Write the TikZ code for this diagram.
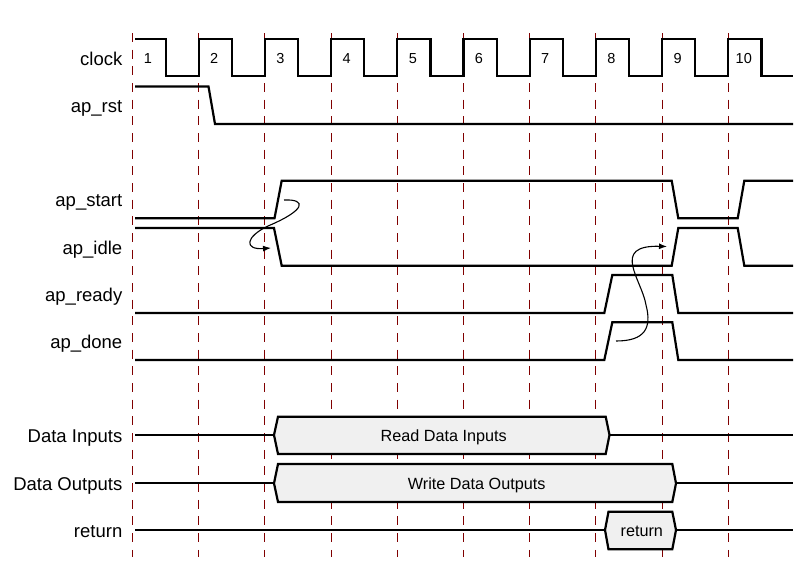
\documentclass[tikz,border=0pt]{standalone}
\usepackage{fontspec}
\setmainfont{Liberation Sans}
\usetikzlibrary{arrows.meta}
\definecolor{gridred}{RGB}{128,0,0}
\definecolor{busfill}{RGB}{240,240,240}
\begin{document}
\begin{tikzpicture}[x=1pt,y=-1pt,
  sig/.style={line width=2.2pt, line join=miter},
  gridline/.style={gridred, line width=1.1pt, dash pattern=on 9pt off 7.67pt},
  lbl/.style={anchor=base east, inner sep=0pt, font=\fontsize{18.5}{20}\selectfont},
  num/.style={anchor=base, inner sep=0pt, font=\fontsize{14.5}{16}\selectfont},
  bus/.style={sig, fill=busfill},
  bustext/.style={anchor=base, inner sep=0pt, font=\fontsize{16.2}{18}\selectfont},
  cause/.style={line width=1.1pt, -{Latex[length=8pt,width=6pt]}}]
\useasboundingbox (0,0) rectangle (800,570);

% grid lines
\foreach \k in {0,...,9} {
  \draw[gridline] ({132.5+66.2*\k},33) -- ({132.5+66.2*\k},557);
}

% labels
\node[lbl] (lclock) at (122.5,65) {clock};
\node[lbl] (lrst) at (122.5,112.7) {ap\_rst};
\node[lbl] (lstart) at (122.5,206.7) {ap\_start};
\node[lbl] (lidle) at (122.5,254.3) {ap\_idle};
\node[lbl] (lready) at (122.5,301.7) {ap\_ready};
\node[lbl] (ldone) at (122.5,348.3) {ap\_done};
\node[lbl] (lin) at (122.5,442.7) {Data Inputs};
\node[lbl] (lout) at (122.5,490.5) {Data Outputs};
\node[lbl] (lret) at (122.5,537.7) {return};

% clock
\draw[sig] (135,38.7)
  -- (165.6,38.7) -- (165.6,76) -- (198.7,76) -- (198.7,38.7)
  -- (231.8,38.7) -- (231.8,76) -- (264.9,76) -- (264.9,38.7)
  -- (298.0,38.7) -- (298.0,76) -- (331.1,76) -- (331.1,38.7)
  -- (364.2,38.7) -- (364.2,76) -- (397.3,76) -- (397.3,38.7)
  -- (430.4,38.7) -- (430.4,76) -- (463.5,76) -- (463.5,38.7)
  -- (496.6,38.7) -- (496.6,76) -- (529.7,76) -- (529.7,38.7)
  -- (562.8,38.7) -- (562.8,76) -- (595.9,76) -- (595.9,38.7)
  -- (629.0,38.7) -- (629.0,76) -- (662.1,76) -- (662.1,38.7)
  -- (695.2,38.7) -- (695.2,76) -- (728.3,76) -- (728.3,38.7)
  -- (761.4,38.7) -- (761.4,76) -- (793,76);
\foreach \k [count=\i from 0] in {1,...,10} {
  \node[num] (n\k) at ({148+66.2*\i},63.7) {\k};
}

% ap_rst
\draw[sig] (135,86.5) -- (208.5,86.5) -- (215,124) -- (793,124);

% ap_start
\draw[sig] (135,218.3) -- (274.5,218.3) -- (281.7,180.7) -- (671.7,180.7)
  -- (678.3,218.3) -- (737.7,218.3) -- (744.3,180.7) -- (793,180.7);
% ap_idle
\draw[sig] (135,228) -- (274,228) -- (281.7,265.7) -- (671.7,265.7)
  -- (678.3,228) -- (737.7,228) -- (744.3,265.7) -- (793,265.7);
% ap_ready
\draw[sig] (135,313) -- (604.3,313) -- (612.3,275) -- (672.3,275)
  -- (678.3,313) -- (793,313);
% ap_done
\draw[sig] (135,360) -- (604.3,360) -- (612.3,322.3) -- (672.3,322.3)
  -- (678.3,360) -- (793,360);

% Data Inputs
\draw[sig] (135,435) -- (274,435);
\draw[bus] (274,435) -- (278,416.7) -- (605.7,416.7) -- (609.5,435)
  -- (605.7,454) -- (278,454) -- cycle;
\draw[sig] (609.5,435) -- (793,435);
\node[bustext] (tin) at (443.7,441.7) {Read Data Inputs};

% Data Outputs
\draw[sig] (135,483.3) -- (274,483.3);
\draw[bus] (274,483.3) -- (278,464) -- (672.3,464) -- (676,483.3)
  -- (672.3,502) -- (278,502) -- cycle;
\draw[sig] (676,483.3) -- (793,483.3);
\node[bustext] (tout) at (476.7,489.3) {Write Data Outputs};

% return
\draw[sig] (135,530) -- (605,530);
\draw[bus] (605,530) -- (608.5,511.7) -- (672.3,511.7) -- (676,530)
  -- (672.3,549.3) -- (608.5,549.3) -- cycle;
\draw[sig] (676,530) -- (793,530);
\node[bustext] (tret) at (641.8,536.7) {return};

% causality arrows
\coordinate (a1s) at (284,200);
\coordinate (a1m) at (268,226);
\coordinate (a1e) at (271,248);
\draw[cause] (a1s) .. controls (307,199) and (306,210) .. (a1m)
  .. controls (245,237) and (244,250) .. (a1e);
\coordinate (a2s) at (616,341);
\coordinate (a2m) at (646,305);
\coordinate (a2e) at (667,246.5);
\draw[cause] (a2s) .. controls (645,341) and (652,328) .. (a2m)
  .. controls (642,280) and (610,245) .. (a2e);
\end{tikzpicture}
\end{document}
